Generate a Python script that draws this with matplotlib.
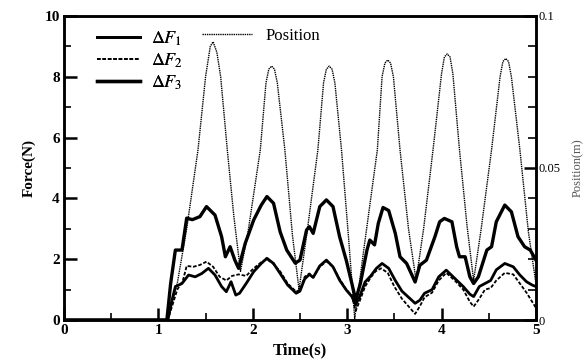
import matplotlib
matplotlib.use('Agg')
import matplotlib.pyplot as plt
from matplotlib.ticker import MultipleLocator

plt.rcParams['font.family'] = ['Liberation Serif', 'DejaVu Serif']
plt.rcParams['mathtext.fontset'] = 'stix'

# 数据
t_f1 = [0, 1.10, 1.14, 1.18, 1.25, 1.32, 1.39, 1.46, 1.53, 1.60,
        1.67, 1.72, 1.77, 1.82, 1.86, 1.93, 2.01, 2.09, 2.15, 2.22,
        2.29, 2.37, 2.46, 2.50, 2.55, 2.60, 2.64, 2.71, 2.78, 2.85,
        2.92, 2.99, 3.05, 3.09, 3.13, 3.19, 3.25, 3.31, 3.37, 3.44,
        3.51, 3.58, 3.65, 3.72, 3.77, 3.82, 3.90, 3.97, 4.05, 4.14,
        4.23, 4.30, 4.34, 4.40, 4.46, 4.52, 4.58, 4.67, 4.76, 4.83,
        4.90, 4.96, 5.00]
f1 = [0, 0, 0.6, 1.1, 1.2, 1.48, 1.42, 1.53, 1.7, 1.48,
      1.1, 0.93, 1.26, 0.82, 0.88, 1.2, 1.59, 1.86, 2.03, 1.86,
      1.53, 1.15, 0.88, 0.95, 1.35, 1.5, 1.4, 1.78, 1.97, 1.75,
      1.31, 0.99, 0.77, 0.5, 0.75, 1.25, 1.45, 1.7, 1.86, 1.7,
      1.3, 0.95, 0.75, 0.55, 0.65, 0.88, 1.0, 1.42, 1.64, 1.37,
      1.1, 0.85, 0.77, 1.1, 1.2, 1.3, 1.65, 1.86, 1.75, 1.48,
      1.26, 1.15, 1.1]

t_f2 = [0, 1.10, 1.15, 1.20, 1.26, 1.30, 1.37, 1.44, 1.51, 1.58,
        1.65, 1.72, 1.78, 1.85, 1.93, 2.01, 2.09, 2.15, 2.22, 2.29,
        2.37, 2.46, 2.50, 2.55, 2.60, 2.64, 2.71, 2.78, 2.85, 2.92,
        2.99, 3.05, 3.09, 3.13, 3.19, 3.25, 3.30, 3.36, 3.43, 3.50,
        3.58, 3.65, 3.72, 3.77, 3.82, 3.90, 3.97, 4.05, 4.14, 4.23,
        4.30, 4.34, 4.40, 4.46, 4.52, 4.58, 4.67, 4.76, 4.83, 4.90,
        4.96, 5.00]
f2 = [0, 0, 0.5, 1.0, 1.3, 1.78, 1.75, 1.81, 1.92, 1.75,
      1.42, 1.3, 1.45, 1.5, 1.45, 1.7, 1.9, 2.0, 1.84, 1.6,
      1.2, 0.93, 1.0, 1.42, 1.53, 1.4, 1.75, 1.93, 1.75, 1.35,
      1.0, 0.8, 0.3, 0.6, 1.1, 1.4, 1.6, 1.7, 1.55, 1.1,
      0.7, 0.45, 0.2, 0.45, 0.75, 0.9, 1.3, 1.55, 1.3, 1.0,
      0.6, 0.44, 0.7, 1.0, 1.05, 1.3, 1.55, 1.5, 1.2, 0.9,
      0.6, 0.4]

t_f3 = [0, 1.09, 1.13, 1.18, 1.25, 1.30, 1.36, 1.44, 1.51, 1.60,
        1.67, 1.71, 1.76, 1.81, 1.85, 1.92, 2.01, 2.09, 2.15, 2.22,
        2.29, 2.36, 2.45, 2.50, 2.57, 2.60, 2.64, 2.71, 2.78, 2.85,
        2.92, 2.99, 3.05, 3.09, 3.14, 3.21, 3.24, 3.29, 3.33, 3.38,
        3.44, 3.51, 3.56, 3.63, 3.72, 3.77, 3.84, 3.93, 3.98, 4.03,
        4.11, 4.16, 4.19, 4.25, 4.30, 4.34, 4.39, 4.48, 4.53, 4.58,
        4.67, 4.74, 4.81, 4.88, 4.94, 5.00]
f3 = [0, 0, 1.2, 2.3, 2.3, 3.35, 3.3, 3.4, 3.73, 3.45,
      2.74, 2.08, 2.41, 1.97, 1.7, 2.52, 3.29, 3.78, 4.06, 3.84,
      2.9, 2.3, 1.87, 1.97, 2.96, 3.07, 2.85, 3.73, 3.95, 3.73,
      2.74, 1.97, 1.2, 0.66, 1.2, 2.3, 2.63, 2.47, 3.18, 3.7,
      3.6, 2.85, 2.08, 1.86, 1.25, 1.8, 1.97, 2.74, 3.23, 3.34,
      3.23, 2.41, 2.08, 2.08, 1.42, 1.2, 1.42, 2.3, 2.41, 3.23,
      3.78, 3.56, 2.74, 2.41, 2.3, 1.97]

t_pos = [0, 1.10, 1.20, 1.30, 1.42, 1.50, 1.55, 1.58, 1.62, 1.66,
         1.73, 1.80, 1.87, 1.95, 2.08, 2.14, 2.17, 2.20, 2.23, 2.26, 2.34, 2.42,
         2.49, 2.58, 2.69, 2.75, 2.78, 2.81, 2.84, 2.87, 2.94, 3.02, 3.08, 3.18,
         3.32, 3.37, 3.40, 3.43, 3.46, 3.49, 3.56, 3.65, 3.73, 3.81, 3.91, 4.00, 4.03,
         4.06, 4.09, 4.12, 4.19, 4.27, 4.34, 4.42, 4.53, 4.62, 4.65, 4.68, 4.71, 4.74,
         4.83, 4.92, 5.00]
pos = [0, 0, 0.012, 0.030, 0.056, 0.080, 0.090, 0.0915, 0.088, 0.080,
       0.056, 0.034, 0.016, 0.029, 0.056, 0.078, 0.0825, 0.0835, 0.0825, 0.078, 0.056, 0.028,
       0.010, 0.030, 0.056, 0.078, 0.0825, 0.0835, 0.0825, 0.078, 0.056, 0.025, 0.0005, 0.024,
       0.056, 0.080, 0.0845, 0.0855, 0.0845, 0.080, 0.056, 0.030, 0.013, 0.030, 0.056, 0.081, 0.0865,
       0.0875, 0.0865, 0.081, 0.056, 0.031, 0.013, 0.030, 0.056, 0.080, 0.085, 0.086, 0.085, 0.080,
       0.056, 0.029, 0.012]

fig = plt.figure(figsize=(5.87, 3.62), dpi=100)
ax = fig.add_axes([0.109, 0.116, 0.804, 0.840])
ax2 = ax.twinx()

l1, = ax.plot(t_f1, f1, color='black', lw=2.0, ls='-')
l2, = ax.plot(t_f2, f2, color='black', lw=1.3, ls=(0, (2, 1)))
l3, = ax.plot(t_f3, f3, color='black', lw=2.4, ls='-')
lp, = ax2.plot(t_pos, pos, color='black', lw=1.0, ls=(0, (1, 0.6)))

ax.set_xlim(0, 5)
ax.set_ylim(0, 10)
ax2.set_ylim(0, 0.1)

ax.xaxis.set_major_locator(MultipleLocator(1))
ax.xaxis.set_minor_locator(MultipleLocator(0.5))
ax.yaxis.set_major_locator(MultipleLocator(2))
ax.yaxis.set_minor_locator(MultipleLocator(1))
ax2.set_yticks([0, 0.05, 0.1])
ax2.set_yticklabels(['0', '0.05', '0.1'])
ax2.yaxis.set_minor_locator(MultipleLocator(0.01))

ax.tick_params(axis='both', which='major', direction='in', length=9, width=1.8,
               labelsize=11, top=False, right=False, pad=3)
ax.tick_params(axis='both', which='minor', direction='in', length=5, width=1.2,
               top=False, right=False)
ax2.tick_params(axis='y', which='major', direction='in', length=9, width=1.8,
                labelsize=9, pad=2)
ax2.tick_params(axis='y', which='minor', direction='in', length=6, width=1.2)
for lab in ax.get_xticklabels() + ax.get_yticklabels():
    lab.set_fontweight('bold')

for a in (ax, ax2):
    for s in a.spines.values():
        s.set_linewidth(1.8)

ax.set_xlabel('Time(s)', fontsize=12, fontweight='bold', labelpad=4)
ax.set_ylabel('Force(N)', fontsize=11, fontweight='bold', labelpad=6)
ax2.set_ylabel('Position(m)', fontsize=9, labelpad=8, color='#555555')

leg1 = ax.legend([l1, l2, l3], [r'$\Delta F_1$', r'$\Delta F_2$', r'$\Delta F_3$'],
                 loc='upper left', bbox_to_anchor=(0.035, 1.01), frameon=False,
                 fontsize=13, handlelength=2.4, handletextpad=0.6, labelspacing=0.2)
ax.add_artist(leg1)
ax2.legend([lp], ['Position'], loc='upper left', bbox_to_anchor=(0.26, 1.01),
           frameon=False, fontsize=12, handlelength=3.0, handletextpad=0.8)

fig.savefig('out.png', dpi=100)
